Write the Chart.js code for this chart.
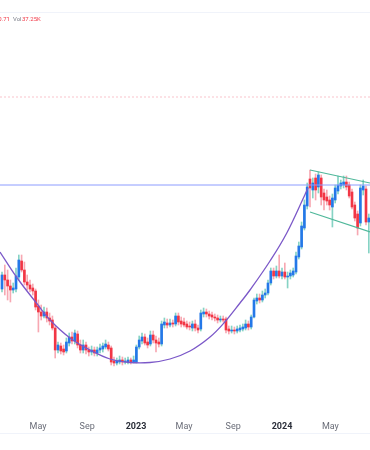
<!DOCTYPE html>
<html>
<head>
<meta charset="utf-8">
<script src="https://cdn.jsdelivr.net/npm/chart.js@4.4.1/dist/chart.umd.min.js"></script>
<style>
  html, body { margin: 0; padding: 0; background: #fff; }
  #wrap { position: relative; width: 370px; height: 450px; overflow: hidden; font-family: Roboto, "Noto Sans", sans-serif; }
  #chart { position: absolute; left: 0; top: 0; }
  .hline { position: absolute; left: 0; width: 370px; height: 1px; background: #f0f3fa; }
  .lg { position: absolute; top: 14.5px; font-size: 6px; line-height: 7px; white-space: nowrap; }
  .red { color: #f23645; }
  .grey { color: #787b86; }
</style>
</head>
<body>
<div id="wrap">
  <canvas id="chart" width="370" height="450"></canvas>
  <div class="hline" style="top:12px"></div>
  <div class="hline" style="top:433px"></div>
  <span class="lg red" style="right:360px">0.71</span>
  <span class="lg grey" style="left:13px">Vol</span>
  <span class="lg red" style="left:22px">37.25K</span>
</div>
<script>
// weekly candles, first week starting 2022-01-31
const firstWeek = "2022-01-31";

const opens = [
  1.28, 1.42, 1.37, 1.31, 1.27, 1.28, 1.40, 1.56, 1.47, 1.35,
  1.32, 1.29, 1.26, 1.11, 1.05, 1.01, 1.05, 0.99, 0.97, 0.89,
  0.67, 0.71, 0.68, 0.66, 0.74, 0.80, 0.76, 0.83, 0.72, 0.67,
  0.72, 0.67, 0.65, 0.67, 0.64, 0.67, 0.68, 0.70, 0.72, 0.69,
  0.56, 0.54, 0.55, 0.57, 0.55, 0.55, 0.57, 0.55, 0.55, 0.70,
  0.76, 0.80, 0.75, 0.73, 0.82, 0.77, 0.75, 0.73, 0.92, 0.94,
  0.92, 0.94, 0.93, 1.01, 0.96, 0.95, 0.93, 0.91, 0.89, 0.93,
  0.89, 0.88, 1.03, 1.05, 1.03, 1.02, 1.00, 0.99, 0.97, 0.98,
  0.98, 0.88, 0.86, 0.87, 0.86, 0.87, 0.88, 0.89, 0.93, 0.90,
  1.00, 1.16, 1.19, 1.17, 1.22, 1.24, 1.34, 1.46, 1.41, 1.46,
  1.41, 1.45, 1.40, 1.41, 1.42, 1.45, 1.60, 1.70, 1.89, 2.11,
  2.38, 2.27, 2.39, 2.30, 2.39, 2.24, 2.20, 2.17, 2.10, 2.17,
  2.26, 2.31, 2.32, 2.35, 2.32, 2.25, 2.12, 2.03, 1.94, 2.27,
  2.28, 1.95
];
const highs = [
  1.45, 1.52, 1.47, 1.37, 1.34, 1.49, 1.62, 1.62, 1.55, 1.42,
  1.37, 1.33, 1.28, 1.17, 1.12, 1.10, 1.09, 1.04, 1.01, 0.91,
  0.75, 0.74, 0.72, 0.79, 0.84, 0.85, 0.87, 0.86, 0.77, 0.77,
  0.75, 0.70, 0.71, 0.70, 0.70, 0.73, 0.74, 0.77, 0.75, 0.71,
  0.60, 0.59, 0.61, 0.60, 0.59, 0.60, 0.59, 0.61, 0.72, 0.81,
  0.84, 0.83, 0.79, 0.86, 0.86, 0.81, 0.79, 0.96, 0.99, 0.98,
  0.98, 0.97, 1.04, 1.04, 1.00, 0.99, 0.96, 0.95, 0.96, 0.97,
  0.92, 1.07, 1.09, 1.08, 1.06, 1.05, 1.03, 1.02, 1.01, 1.01,
  1.00, 0.91, 0.91, 0.90, 0.91, 0.92, 0.93, 0.97, 0.96, 1.02,
  1.19, 1.23, 1.23, 1.26, 1.28, 1.37, 1.49, 1.49, 1.51, 1.62,
  1.49, 1.54, 1.45, 1.47, 1.49, 1.65, 1.75, 1.95, 2.17, 2.34,
  2.47, 2.39, 2.43, 2.45, 2.42, 2.28, 2.27, 2.21, 2.23, 2.32,
  2.41, 2.37, 2.41, 2.41, 2.35, 2.28, 2.15, 2.06, 2.32, 2.37,
  2.31, 2.03
];
const lows = [
  1.25, 1.22, 1.17, 1.15, 1.24, 1.25, 1.37, 1.45, 1.32, 1.27,
  1.25, 1.22, 1.07, 0.85, 0.97, 0.99, 0.95, 0.92, 0.87, 0.59,
  0.64, 0.63, 0.62, 0.64, 0.71, 0.73, 0.73, 0.69, 0.64, 0.64,
  0.63, 0.61, 0.62, 0.61, 0.61, 0.64, 0.65, 0.68, 0.66, 0.52,
  0.51, 0.52, 0.53, 0.52, 0.53, 0.53, 0.53, 0.54, 0.54, 0.68,
  0.73, 0.72, 0.69, 0.71, 0.74, 0.65, 0.70, 0.71, 0.89, 0.89,
  0.90, 0.90, 0.91, 0.92, 0.90, 0.90, 0.88, 0.87, 0.86, 0.86,
  0.84, 0.86, 1.00, 1.00, 0.98, 0.97, 0.96, 0.94, 0.95, 0.95,
  0.84, 0.83, 0.84, 0.83, 0.84, 0.85, 0.86, 0.87, 0.87, 0.88,
  0.99, 1.13, 1.14, 1.15, 1.19, 1.22, 1.32, 1.38, 1.39, 1.39,
  1.38, 1.38, 1.29, 1.38, 1.40, 1.43, 1.58, 1.68, 1.87, 2.08,
  2.10, 2.19, 2.17, 2.24, 2.12, 2.07, 2.12, 2.07, 1.90, 2.14,
  2.23, 2.28, 2.29, 2.27, 2.19, 2.08, 1.96, 1.82, 1.91, 2.22,
  1.92, 1.64
];
const closes = [
  1.42, 1.37, 1.31, 1.27, 1.29, 1.41, 1.57, 1.47, 1.35, 1.32,
  1.28, 1.26, 1.10, 1.05, 1.01, 1.05, 0.99, 0.96, 0.89, 0.67,
  0.72, 0.66, 0.65, 0.75, 0.80, 0.76, 0.84, 0.72, 0.67, 0.72,
  0.67, 0.65, 0.67, 0.64, 0.67, 0.69, 0.71, 0.73, 0.68, 0.55,
  0.54, 0.56, 0.57, 0.55, 0.56, 0.57, 0.55, 0.57, 0.70, 0.77,
  0.80, 0.74, 0.72, 0.82, 0.77, 0.74, 0.73, 0.93, 0.95, 0.92,
  0.94, 0.93, 1.01, 0.95, 0.93, 0.92, 0.90, 0.90, 0.93, 0.89,
  0.87, 1.04, 1.05, 1.03, 1.01, 1.00, 0.99, 0.97, 0.98, 0.97,
  0.87, 0.86, 0.87, 0.86, 0.88, 0.89, 0.90, 0.93, 0.90, 1.00,
  1.17, 1.19, 1.17, 1.22, 1.24, 1.34, 1.46, 1.41, 1.46, 1.41,
  1.45, 1.40, 1.41, 1.44, 1.46, 1.61, 1.71, 1.91, 2.12, 2.30,
  2.29, 2.34, 2.27, 2.42, 2.20, 2.17, 2.16, 2.12, 2.19, 2.29,
  2.32, 2.34, 2.35, 2.30, 2.21, 2.10, 1.99, 1.89, 2.29, 2.31,
  1.95, 1.99
];

// time axis labels
const tickDates = ["2022-05-01", "2022-09-01", "2023-01-01", "2023-05-01", "2023-09-01", "2024-01-01", "2024-05-01"];
const tickLabels = ["May", "Sep", "2023", "May", "Sep", "2024", "May"];

// drawings
const resistance = 2.32;
const lastPrice = 3.2;
const cupDates = [
  "2022-01-26", "2022-03-10", "2022-04-29", "2022-05-31", "2022-07-20", "2022-09-08",
  "2022-10-28", "2022-12-17", "2023-02-05", "2023-03-27", "2023-05-16", "2023-07-05",
  "2023-08-11", "2023-09-18", "2023-10-13", "2023-12-02", "2024-01-13", "2024-02-27",
  "2024-03-06"
];
const cupPrices = [
  1.65, 1.39, 1.13, 0.97, 0.79, 0.67, 0.58, 0.545, 0.545, 0.58,
  0.66, 0.80, 0.95, 1.14, 1.27, 1.56, 1.84, 2.22, 2.29
];
const channelDates = ["2024-03-11", "2024-08-08"];
const channelTop = [2.47, 2.34];
const channelBottom = [2.05, 1.85];

const viewStart = "2022-01-26";
const viewEnd = "2024-08-08";

const UP = "#2478e8";
const DOWN = "#f23645";
const UP_WICK = "#86d3c4";
const DOWN_WICK = "#f7a8b2";

const origin = Date.UTC(2023, 0, 1);
function dayOf(s) {
  return (Date.parse(s) - origin) / 86400000;
}

const first = dayOf(firstWeek);
const weeks = opens.map((o, i) => first + 7 * i);
const xMin = dayOf(viewStart);
const xMax = dayOf(viewEnd);

function isUp(i) {
  return closes[i] >= opens[i];
}

new Chart(document.getElementById("chart").getContext("2d"), {
  data: {
    datasets: [
      {
        type: "bar",
        data: weeks.map((x, i) => ({ x: x, y: [lows[i], highs[i]] })),
        backgroundColor: (ctx) => (isUp(ctx.dataIndex) ? UP_WICK : DOWN_WICK),
        barThickness: 1,
        grouped: false,
        borderWidth: 0,
        order: 3,
      },
      {
        type: "bar",
        data: weeks.map((x, i) => ({ x: x, y: [opens[i], closes[i]] })),
        backgroundColor: (ctx) => (isUp(ctx.dataIndex) ? UP : DOWN),
        barThickness: 2,
        minBarLength: 1,
        grouped: false,
        borderWidth: 0,
        order: 2,
      },
      {
        type: "line",
        data: [{ x: xMin, y: resistance }, { x: xMax, y: resistance }],
        borderColor: "#8c9cff",
        borderWidth: 1,
        pointRadius: 0,
        order: 1,
      },
      {
        type: "line",
        data: [{ x: xMin, y: lastPrice }, { x: xMax, y: lastPrice }],
        borderColor: "#f9c3cb",
        borderWidth: 1,
        borderDash: [2, 2],
        pointRadius: 0,
        order: 1,
      },
      {
        type: "line",
        data: cupDates.map((d, i) => ({ x: dayOf(d), y: cupPrices[i] })),
        borderColor: "#7b58c8",
        borderWidth: 1.3,
        pointRadius: 0,
        tension: 0.4,
        order: 0,
      },
      {
        type: "line",
        data: channelDates.map((d, i) => ({ x: dayOf(d), y: channelTop[i] })),
        borderColor: "#4fb89a",
        borderWidth: 1.2,
        pointRadius: 0,
        order: 0,
      },
      {
        type: "line",
        data: channelDates.map((d, i) => ({ x: dayOf(d), y: channelBottom[i] })),
        borderColor: "#4fb89a",
        borderWidth: 1.2,
        pointRadius: 0,
        order: 0,
      },
    ],
  },
  options: {
    responsive: false,
    animation: false,
    events: [],
    layout: { padding: { top: 12, bottom: 12, left: 0, right: 0 } },
    plugins: { legend: { display: false }, tooltip: { enabled: false } },
    scales: {
      x: {
        type: "linear",
        min: xMin,
        max: xMax,
        offset: false,
        grid: { display: false, drawTicks: false },
        border: { display: false },
        afterBuildTicks: (s) => {
          s.ticks = tickDates.map((d) => ({ value: dayOf(d) }));
        },
        afterFit: (s) => {
          s.height = 21;
        },
        ticks: {
          autoSkip: false,
          maxRotation: 0,
          padding: 4,
          callback: (v, i) => tickLabels[i],
          color: (ctx) => (/^\d+$/.test(tickLabels[ctx.index]) ? "#2a2e39" : "#6a6d78"),
          font: (ctx) => ({
            family: "Roboto",
            size: 9,
            weight: /^\d+$/.test(tickLabels[ctx.index]) ? "bold" : "normal",
          }),
        },
      },
      y: {
        display: false,
        min: 0,
        max: 4.05,
      },
    },
  },
});
</script>
</body>
</html>
